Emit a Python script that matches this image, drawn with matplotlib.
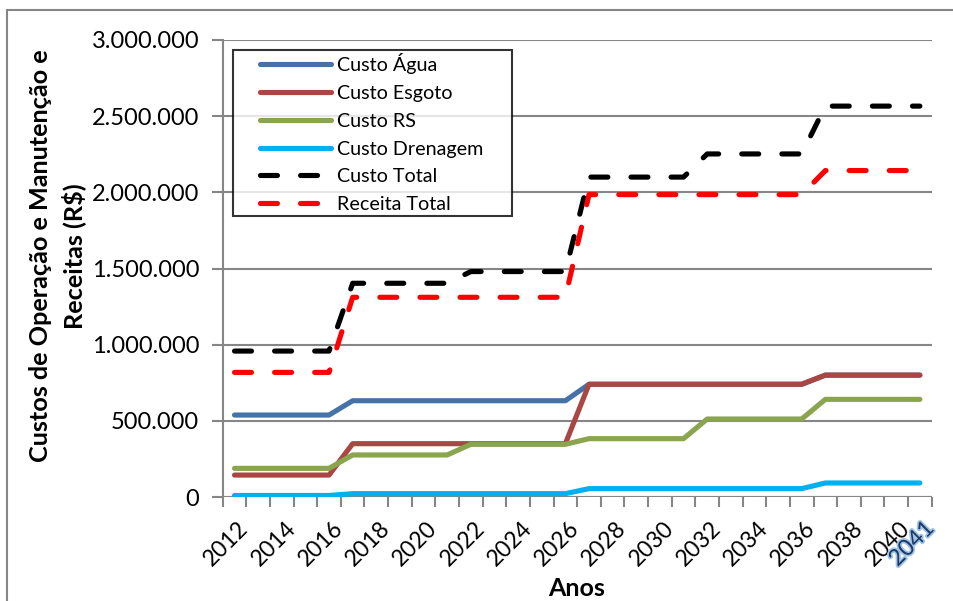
import matplotlib
matplotlib.use("Agg")
import matplotlib.pyplot as plt
import matplotlib.patches as mpatches
import matplotlib.patheffects as pe
import matplotlib.transforms as mtrans
from matplotlib.ticker import FuncFormatter, FixedLocator
from matplotlib.legend_handler import HandlerLine2D

plt.rcParams['font.family'] = ['Lato', 'DejaVu Sans']

years = [2012, 2013, 2014, 2015, 2016, 2017, 2018, 2019, 2020, 2021,
         2022, 2023, 2024, 2025, 2026, 2027, 2028, 2029, 2030, 2031,
         2032, 2033, 2034, 2035, 2036, 2037, 2038, 2039, 2040, 2041]

custo_agua = [538000, 538000, 538000, 538000, 538000,
              632000, 632000, 632000, 632000, 632000,
              632000, 632000, 632000, 632000, 632000,
              740000, 740000, 740000, 740000, 740000,
              740000, 740000, 740000, 740000, 740000,
              800000, 800000, 800000, 800000, 800000]
custo_esgoto = [144000, 144000, 144000, 144000, 144000,
                350000, 350000, 350000, 350000, 350000,
                350000, 350000, 350000, 350000, 350000,
                740000, 740000, 740000, 740000, 740000,
                740000, 740000, 740000, 740000, 740000,
                800000, 800000, 800000, 800000, 800000]
custo_rs = [188000, 188000, 188000, 188000, 188000,
            276000, 276000, 276000, 276000, 276000,
            346000, 346000, 346000, 346000, 346000,
            383000, 383000, 383000, 383000, 383000,
            512000, 512000, 512000, 512000, 512000,
            641000, 641000, 641000, 641000, 641000]
custo_drenagem = [10000, 10000, 10000, 10000, 10000,
                  22000, 22000, 22000, 22000, 22000,
                  22000, 22000, 22000, 22000, 22000,
                  55000, 55000, 55000, 55000, 55000,
                  55000, 55000, 55000, 55000, 55000,
                  92000, 92000, 92000, 92000, 92000]
custo_total = [958000, 958000, 958000, 958000, 958000,
               1403000, 1403000, 1403000, 1403000, 1403000,
               1480000, 1480000, 1480000, 1480000, 1480000,
               2100000, 2100000, 2100000, 2100000, 2100000,
               2252000, 2252000, 2252000, 2252000, 2252000,
               2566000, 2566000, 2566000, 2566000, 2566000]
receita_total = [818000, 818000, 818000, 818000, 818000,
                 1311000, 1311000, 1311000, 1311000, 1311000,
                 1311000, 1311000, 1311000, 1311000, 1311000,
                 1985000, 1985000, 1985000, 1985000, 1985000,
                 1985000, 1985000, 1985000, 1985000, 1985000,
                 2143000, 2143000, 2143000, 2143000, 2143000]

series_labels = ["Custo Água", "Custo Esgoto", "Custo RS", "Custo Drenagem",
                 "Custo Total", "Receita Total"]
label_years = [2012, 2014, 2016, 2018, 2020, 2022, 2024, 2026, 2028, 2030,
               2032, 2034, 2036, 2038, 2040, 2041]

W, H = 954, 601
fig = plt.figure(figsize=(W / 100, H / 100), dpi=100)
L, R, B, T = 222.7, 931.7, 497, 40
ax = fig.add_axes([L / W, 1 - B / H, (R - L) / W, (B - T) / H])

x = list(range(len(years)))
lw = 3.7
solid_styles = [("#4572A7", custo_agua), ("#AA4643", custo_esgoto),
                ("#89A54E", custo_rs), ("#00B0F0", custo_drenagem)]
handles = []
for (c, data), lab in zip(solid_styles, series_labels[:4]):
    h, = ax.plot(x, data, color=c, lw=lw, solid_capstyle='round',
                 solid_joinstyle='round', label=lab, zorder=3)
    handles.append(h)
for c, data, lab in [("black", custo_total, series_labels[4]),
                     ("#FF0000", receita_total, series_labels[5])]:
    h, = ax.plot(x, data, color=c, lw=lw, dash_capstyle='round',
                 dash_joinstyle='round', label=lab, zorder=3)
    h.set_dashes((3.3, 4.5))
    handles.append(h)

ax.set_xlim(-0.5, len(years) - 0.5)
ax.set_ylim(0, 3000000)

grid_c = "#868686"
ax.set_yticks([0, 500000, 1000000, 1500000, 2000000, 2500000, 3000000])
ax.yaxis.set_major_formatter(FuncFormatter(lambda v, p: f"{int(v):,}".replace(",", ".")))
ax.yaxis.grid(True, color=grid_c, lw=1.5, zorder=0)
ax.set_axisbelow(True)

for s in ['top', 'right', 'bottom']:
    ax.spines[s].set_visible(False)
ax.spines['left'].set_color(grid_c)
ax.spines['left'].set_linewidth(1.5)

ax.tick_params(axis='y', colors=grid_c, length=8, width=1.5, labelsize=17,
               labelcolor='black', pad=9)

# x ticks at category boundaries
ax.xaxis.set_major_locator(FixedLocator([i - 0.5 for i in range(len(years) + 1)]))
ax.tick_params(axis='x', which='major', colors=grid_c, length=7, width=1.5,
               labelbottom=False)
ax.axhline(0, color=grid_c, lw=1.5, zorder=1)
ax.xaxis.set_minor_locator(FixedLocator([years.index(y) for y in label_years]))
ax.set_xticklabels([str(y) for y in label_years], minor=True)
ax.tick_params(axis='x', which='minor', length=0, labelsize=16.5, pad=15)
off = mtrans.ScaledTranslation(3 / 100, 0, fig.dpi_scale_trans)
for t in ax.get_xticklabels(minor=True):
    t.set_rotation(45)
    t.set_ha('right')
    t.set_va('top')
    t.set_rotation_mode('anchor')
    t.set_transform(t.get_transform() + off)
    if t.get_text() == "2041":
        t.set_color('#1F3864')
        t.set_path_effects([pe.withStroke(linewidth=2.5, foreground='#9DC3E6')])

# legend
leg_fs = 14.2
fs_px = leg_fs * 100 / 72
lx0, lx1, ly0 = 232.7, 511.7, 50
hmap = {h: HandlerLine2D(xpad=24 / fs_px) for h in handles}
leg = ax.legend(handles=handles, loc='upper left',
                bbox_to_anchor=((lx0 - L) / (R - L), (B - ly0) / (B - T),
                                (lx1 - lx0) / (R - L), 0.0),
                mode='expand', handler_map=hmap,
                frameon=True, fancybox=False, fontsize=leg_fs,
                handlelength=(71 + 24) / fs_px,
                handletextpad=0.3, labelspacing=0.55, borderpad=0.15,
                borderaxespad=0)
leg.get_frame().set_edgecolor('black')
leg.get_frame().set_linewidth(1.5)
leg.set_zorder(5)

# y label
fig.text(57.5 / W, 1 - 256 / H, "Custos de Operação e Manutenção e\nReceitas (R$)",
         rotation=90, ha='center', va='center', fontsize=18.2, fontweight='bold',
         multialignment='center', linespacing=1.45)
# x label
fig.text(577 / W, 1 - 589 / H, "Anos", ha='center', va='center', fontsize=18,
         fontweight='bold')

# outer frame (cropped)
fig.patches.append(mpatches.Rectangle((7.5 / W, -0.2), 1.5, 1.2 - 9.5 / H,
                                      transform=fig.transFigure, fill=False,
                                      edgecolor=grid_c, lw=1.5))

fig.savefig("out.png", dpi=100)
